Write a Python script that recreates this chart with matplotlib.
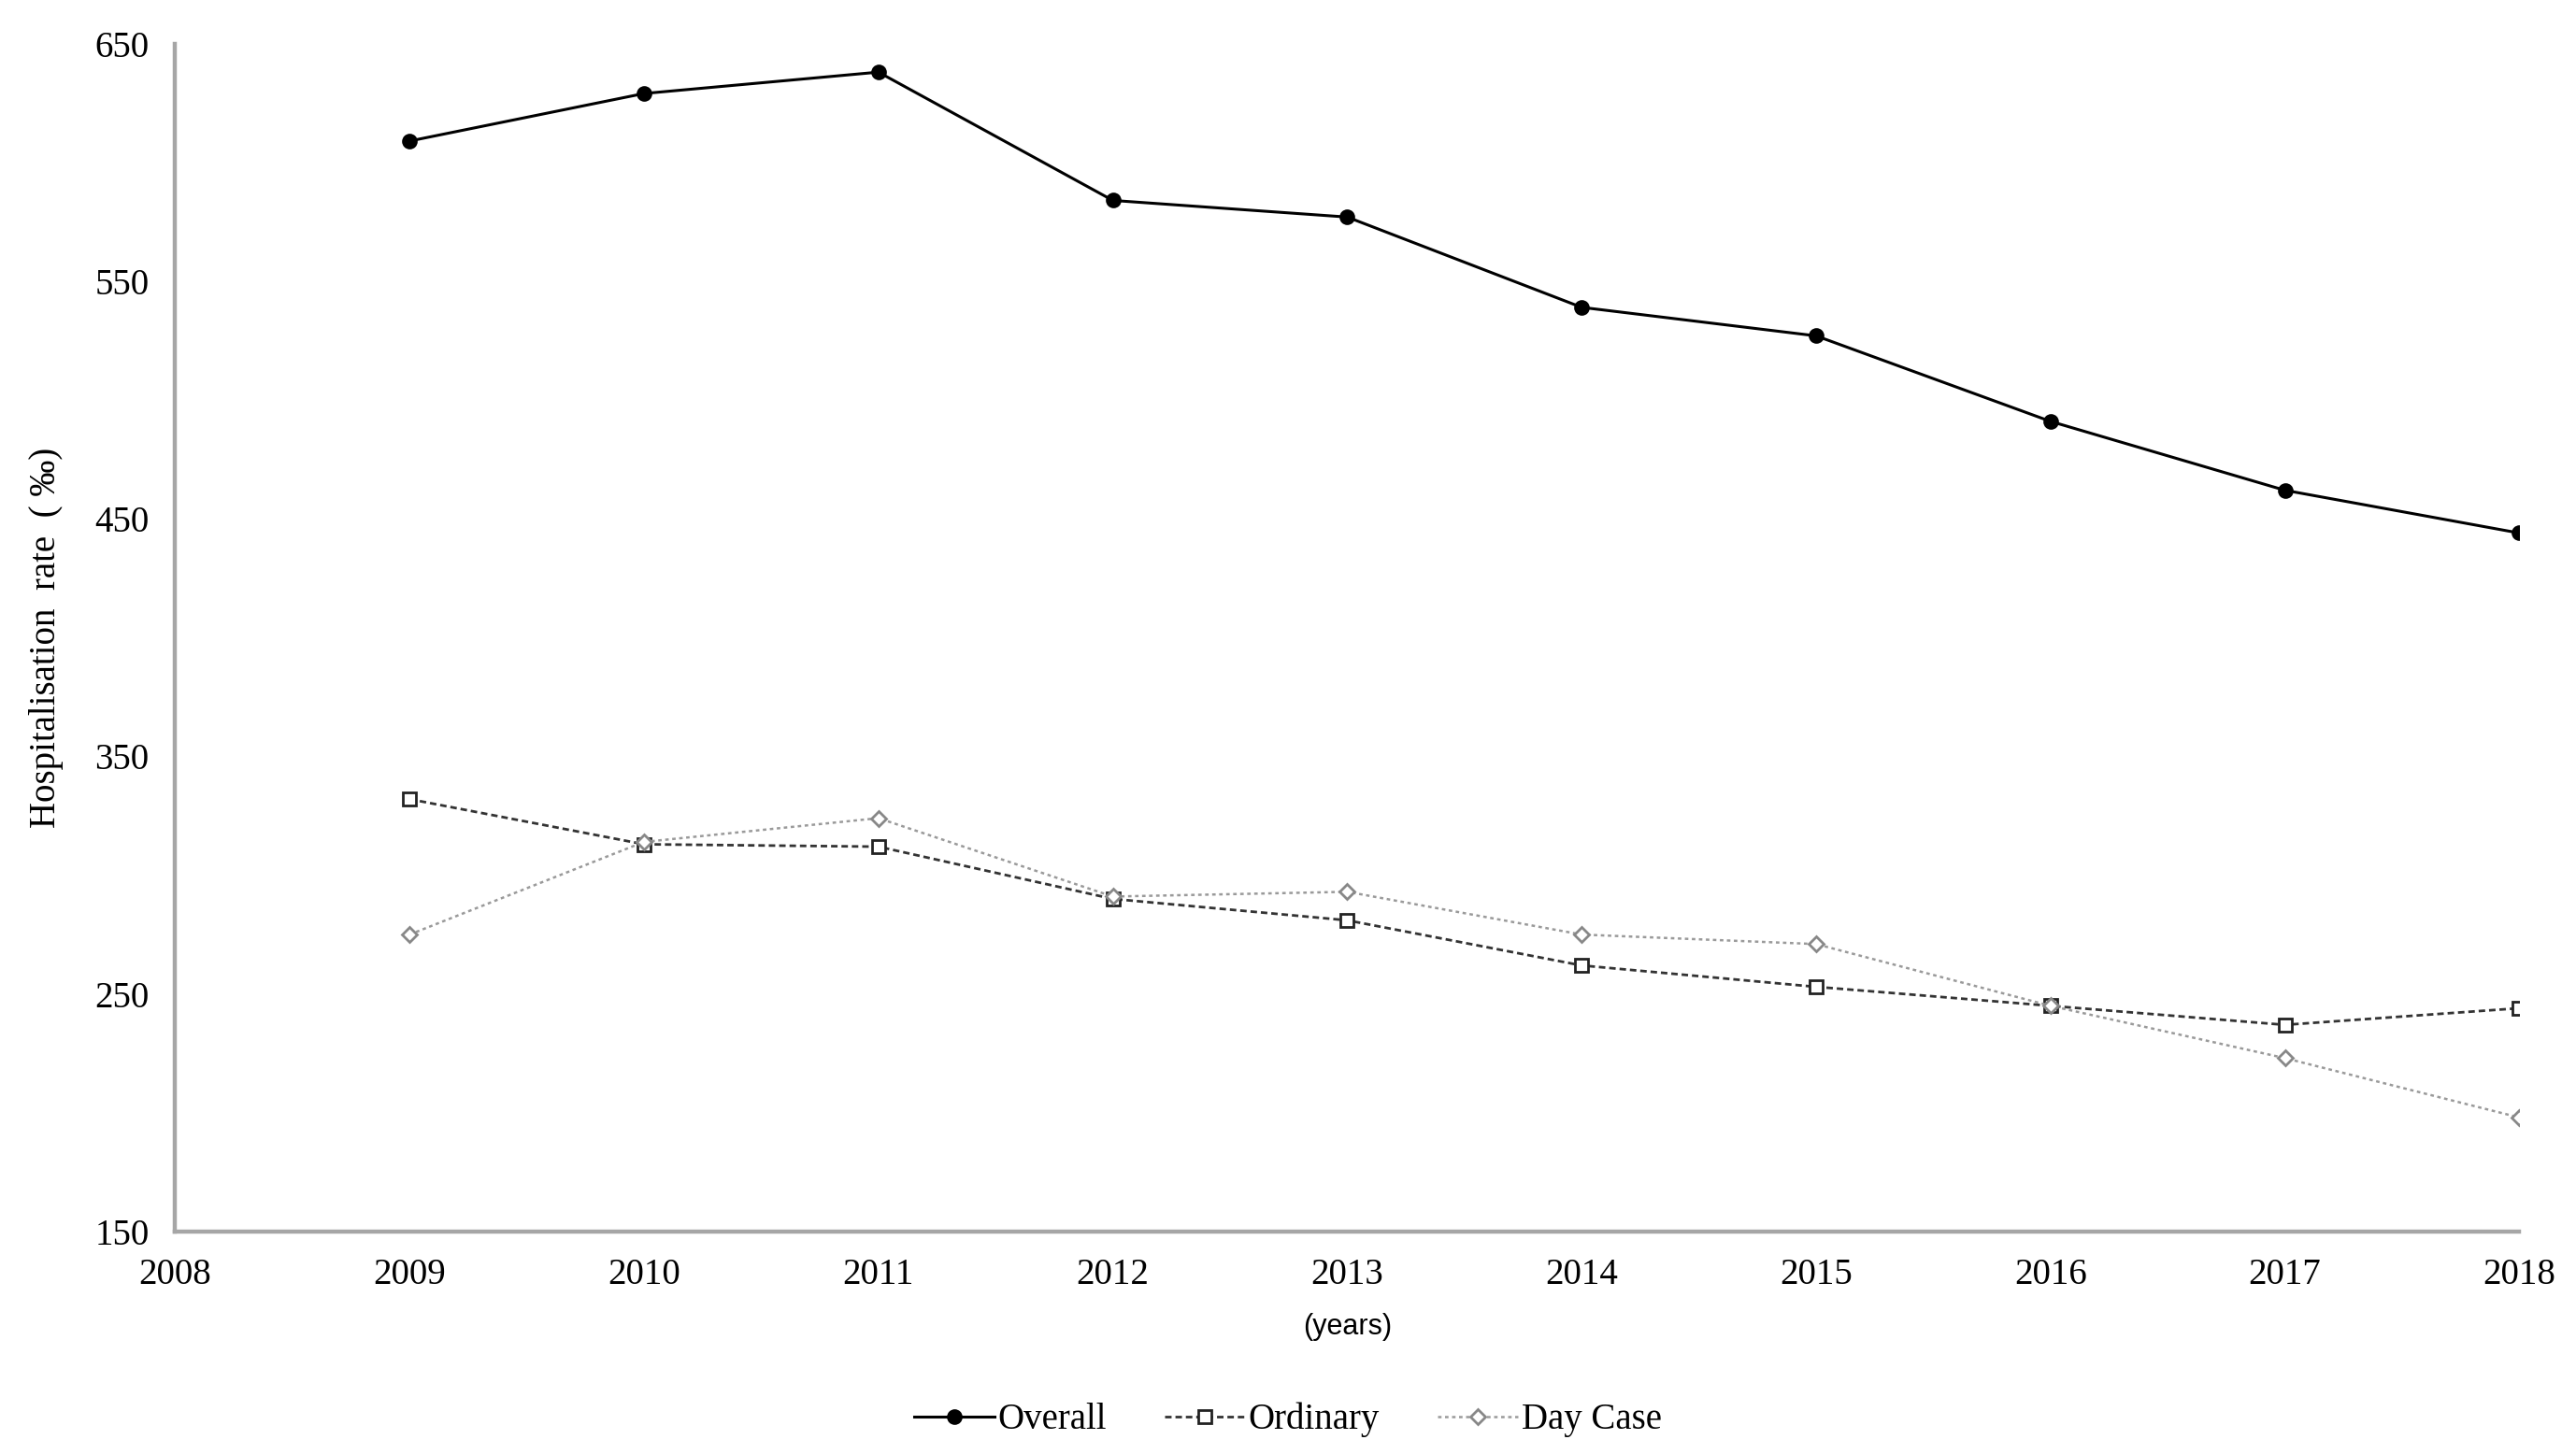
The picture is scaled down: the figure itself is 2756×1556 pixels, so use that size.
import numpy as np
import matplotlib
matplotlib.use("Agg")
import matplotlib.pyplot as plt

years = [2009, 2010, 2011, 2012, 2013, 2014, 2015, 2016, 2017, 2018]
overall = [609, 629, 638, 584, 577, 539, 527, 491, 462, 444]
ordinary = [332, 313, 312, 290, 281, 262, 253, 245, 237, 244]
day_case = [275, 314, 324, 291, 293, 275, 271, 245, 223, 198]

plt.rcParams['font.family'] = ['Liberation Serif', 'DejaVu Serif']

fig = plt.figure(figsize=(13.78, 7.78), dpi=200)
ax = fig.add_axes([0.068, 0.153, 0.910, 0.817])

ax.plot(years, overall, color='black', lw=1.1, marker='o', markersize=5,
        markerfacecolor='black', label='Overall')
ax.plot(years, ordinary, color='#333333', lw=1.0, ls=(0, (2.5, 1.5)), marker='s',
        markersize=5, markerfacecolor='white', markeredgecolor='#222222',
        markeredgewidth=1.0, label='Ordinary')
ax.plot(years, day_case, color='#9a9a9a', lw=0.9, ls=(0, (1.5, 1.5)), marker='D',
        markersize=4, markerfacecolor='white', markeredgecolor='#888888',
        markeredgewidth=1.0, label='Day Case')

ax.set_xlim(2008, 2018)
ax.set_ylim(150, 650)
ax.set_xticks(np.arange(2008, 2019, 1))
ax.set_yticks(np.arange(150, 651, 100))
ax.tick_params(length=0, labelsize=14, pad=10)

for side in ['top', 'right']:
    ax.spines[side].set_visible(False)
for side in ['left', 'bottom']:
    ax.spines[side].set_color('#a6a6a6')
    ax.spines[side].set_linewidth(1.6)

ax.set_ylabel('Hospitalisation  rate  ( ‰)', fontsize=14, labelpad=12)
ax.set_xlabel('(years)', fontsize=11, family=['Liberation Sans', 'DejaVu Sans'], labelpad=8)

fig.legend(loc='lower center', bbox_to_anchor=(0.5, -0.011), ncol=3, frameon=False,
           fontsize=14, handlelength=2.2, handletextpad=0.1, columnspacing=1.6)

fig.savefig('out.png', dpi=200, facecolor='white')
